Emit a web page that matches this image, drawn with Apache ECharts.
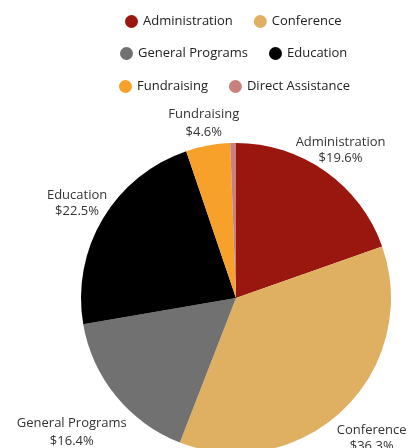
<!DOCTYPE html>
<html>
<head>
<meta charset="utf-8">
<script src="https://cdn.jsdelivr.net/npm/echarts@6/dist/echarts.min.js"></script>
<style>
html,body{margin:0;padding:0;background:#fff;}
#chart{width:413px;height:448px;}
</style>
</head>
<body>
<div id="chart"></div>
<script>
const categories = ['Administration', 'Conference', 'General Programs', 'Education', 'Fundraising', 'Direct Assistance'];
const values = [19.6, 36.3, 16.4, 22.5, 4.6, 0.6];
const colors = ['#9A1710', '#E0B062', '#717171', '#000000', '#F7A12B', '#C9817D'];

const FONT = '"Open Sans", sans-serif';
const CX = 236, CY = 298, R = 155;
// label distance from the pie centre, per slice (layout only)
const labelDist = [181, 195, 212, 185, 178, 180];
const labelLH = [16, 16, 18, 16, 18, 16];

const total = values.reduce((a, b) => a + b, 0);
function midAngle(i) {
  let cum = 0;
  for (let k = 0; k < i; k++) cum += values[k];
  return (cum + values[i] / 2) / total * 2 * Math.PI; // clockwise from top
}

const chart = echarts.init(document.getElementById('chart'), null, {renderer: 'canvas'});

function legendRow(names, top, left) {
  return {
    data: names,
    top: top,
    left: left,
    orient: 'horizontal',
    icon: 'circle',
    itemWidth: 13,
    itemHeight: 13,
    itemGap: 21,
    textStyle: {fontFamily: FONT, fontSize: 13, color: '#222'}
  };
}

chart.setOption({
  animation: false,
  color: colors,
  legend: [
    legendRow([categories[0], categories[1]], 10, 120),
    legendRow([categories[2], categories[3]], 42, 115),
    legendRow([categories[4], categories[5]], 75, 114)
  ],
  series: [{
    type: 'pie',
    center: [CX, CY],
    radius: R,
    startAngle: 90,
    clockwise: true,
    avoidLabelOverlap: false,
    minShowLabelAngle: 3,
    data: categories.map((c, i) => ({
      name: c,
      value: values[i],
      label: {lineHeight: labelLH[i]}
    })),
    label: {
      show: true,
      position: 'outside',
      formatter: p => p.name + '\n$' + p.value + '%',
      fontFamily: FONT,
      fontSize: 13,
      lineHeight: 16,
      color: '#333'
    },
    labelLine: {show: false},
    labelLayout: function (params) {
      const i = params.dataIndex;
      const a = midAngle(i);
      const d = labelDist[i];
      return {
        x: CX + d * Math.sin(a),
        y: CY - d * Math.cos(a),
        align: 'center',
        verticalAlign: 'middle'
      };
    },
    emphasis: {disabled: true}
  }]
});
</script>
</body>
</html>
